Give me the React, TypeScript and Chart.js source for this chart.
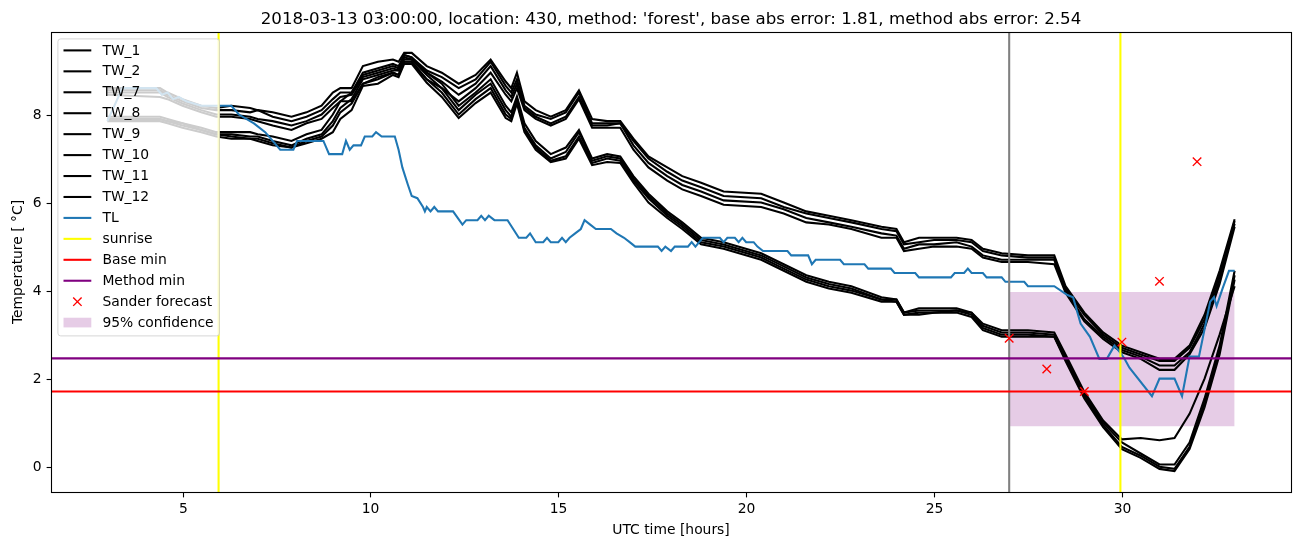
import React, { useEffect, useRef } from "react";
import { Chart, registerables } from "chart.js";

Chart.register(...registerables);

const TITLE =
  "2018-03-13 03:00:00, location: 430, method: 'forest', base abs error: 1.81, method abs error: 2.54";
const X_LABEL = "UTC time [hours]";
const Y_LABEL = "Temperature [ \u00B0C]";
const X_TICKS = [5, 10, 15, 20, 25, 30];
const Y_TICKS = [0, 2, 4, 6, 8];
const X_MIN = 1.5;
const X_MAX = 34.5;
const Y_MIN = -0.575;
const Y_MAX = 9.875;

const TW_NAMES = ["TW_1", "TW_2", "TW_7", "TW_8", "TW_9", "TW_10", "TW_11", "TW_12"];

const TW_TIMES = [
  3.0, 4.4, 4.6, 5.0, 5.5, 5.9, 6.3, 6.8, 7.0, 7.4, 7.9, 8.3, 8.7, 9.0, 9.2, 9.5, 9.8, 10.2, 10.6,
  10.75, 10.9, 11.1, 11.5, 11.9, 12.35, 12.8, 13.2, 13.6, 13.75, 13.9, 14.1, 14.4, 14.8, 15.2, 15.55,
  15.9, 16.3, 16.65, 17.0, 17.4, 17.9, 18.3, 18.8, 19.4, 20.4, 21.0, 21.6, 22.2, 22.8, 23.6, 24.0,
  24.2, 24.6, 25.0, 25.6, 26.0, 26.3, 26.8, 27.5, 28.2, 28.5, 29.0, 29.5, 30.0, 30.5, 31.0, 31.4,
  31.8, 32.2, 32.6, 33.0,
];

const TW_1 = [
  8.6, 8.6, 8.5, 8.35, 8.2, 8.15, 8.2, 8.15, 8.1, 8.05, 7.95, 8.05, 8.2, 8.5, 8.6, 8.6, 9.1, 9.2, 9.25,
  9.2, 9.4, 9.4, 9.1, 8.95, 8.7, 8.9, 9.25, 8.75, 8.6, 8.95, 8.3, 8.1, 7.95, 8.1, 8.55,
  7.9, 7.85, 7.85, 7.45, 7.05, 6.8, 6.6, 6.45, 6.25, 6.2, 6.0, 5.8, 5.7, 5.6, 5.45, 5.4,
  5.1, 5.2, 5.2, 5.2, 5.15, 4.95, 4.85, 4.8, 4.8, 4.1, 3.5, 3.05, 2.75, 2.6, 2.45, 2.45,
  2.75, 3.45, 4.45, 5.62,
];
const TW_2 = [
  8.55, 8.55, 8.45, 8.3, 8.15, 8.1, 8.1, 8.05, 8.1, 7.95, 7.85, 7.95, 8.1, 8.35, 8.5, 8.5, 8.95, 9.05, 9.15,
  9.1, 9.35, 9.3, 9.0, 8.85, 8.6, 8.8, 9.2, 8.65, 8.5, 8.8, 8.2, 8.0, 7.9, 8.05, 8.5,
  7.8, 7.8, 7.8, 7.4, 7.0, 6.7, 6.5, 6.35, 6.15, 6.1, 5.9, 5.75, 5.65, 5.55, 5.4, 5.35,
  5.05, 5.1, 5.15, 5.15, 5.1, 4.9, 4.8, 4.75, 4.75, 4.05, 3.45, 3.0, 2.7, 2.55, 2.4, 2.4,
  2.7, 3.35, 4.35, 5.58,
];
const TW_7 = [
  8.5, 8.5, 8.4, 8.25, 8.1, 8.0, 8.0, 7.95, 7.9, 7.85, 7.75, 7.85, 8.0, 8.25, 8.4, 8.45, 8.85, 8.95, 9.05,
  9.0, 9.25, 9.25, 8.95, 8.75, 8.45, 8.7, 9.1, 8.55, 8.4, 8.7, 8.15, 7.95, 7.8, 7.95, 8.4,
  7.75, 7.75, 7.8, 7.3, 6.9, 6.6, 6.4, 6.25, 6.05, 6.0, 5.85, 5.65, 5.55, 5.45, 5.3, 5.25,
  4.95, 5.05, 5.05, 5.1, 5.0, 4.8, 4.7, 4.7, 4.7, 4.0, 3.35, 2.95, 2.65, 2.5, 2.3, 2.3,
  2.6, 3.25, 4.25, 5.52,
];
const TW_8 = [
  8.45, 8.4, 8.35, 8.2, 8.05, 7.95, 7.95, 7.9, 7.85, 7.75, 7.65, 7.8, 7.9, 8.15, 8.3, 8.3, 8.7, 8.85, 8.95,
  8.9, 9.2, 9.2, 8.8, 8.6, 8.3, 8.6, 8.95, 8.45, 8.3, 8.6, 8.1, 7.9, 7.75, 7.9, 8.35,
  7.7, 7.7, 7.7, 7.2, 6.8, 6.5, 6.3, 6.15, 5.95, 5.9, 5.75, 5.55, 5.5, 5.4, 5.2, 5.2,
  4.9, 4.95, 5.0, 5.0, 4.95, 4.75, 4.65, 4.65, 4.6, 3.95, 3.3, 2.9, 2.6, 2.45, 2.2, 2.2,
  2.55, 3.15, 4.15, 5.45,
];
const TW_9 = [
  7.95, 7.95, 7.9, 7.8, 7.7, 7.6, 7.6, 7.6, 7.55, 7.5, 7.4, 7.55, 7.65, 8.0, 8.3, 8.5, 8.9, 9.0, 9.1,
  9.05, 9.35, 9.3, 8.95, 8.7, 8.2, 8.5, 8.8, 8.2, 8.05, 8.41, 7.8, 7.4, 7.1, 7.25, 7.65,
  7.0, 7.1, 7.05, 6.6, 6.2, 5.8, 5.55, 5.2, 5.1, 4.85, 4.6, 4.35, 4.2, 4.1, 3.85, 3.8,
  3.5, 3.6, 3.6, 3.6, 3.5, 3.25, 3.1, 3.1, 3.05, 2.55, 1.7, 1.05, 0.62, 0.65, 0.6, 0.65,
  1.2, 2.0, 3.0, 4.1,
];
const TW_10 = [
  7.9, 7.9, 7.85, 7.8, 7.65, 7.55, 7.55, 7.5, 7.5, 7.4, 7.3, 7.45, 7.55, 7.85, 8.15, 8.35, 8.8, 8.9, 9.0,
  9.0, 9.3, 9.25, 8.9, 8.6, 8.1, 8.45, 8.7, 8.1, 7.95, 8.35, 7.7, 7.3, 7.0, 7.15, 7.6,
  6.95, 7.05, 7.0, 6.55, 6.15, 5.75, 5.5, 5.15, 5.05, 4.8, 4.55, 4.3, 4.15, 4.05, 3.8, 3.8,
  3.5, 3.55, 3.55, 3.55, 3.5, 3.2, 3.05, 3.05, 3.0, 2.5, 1.65, 1.0, 0.55, 0.3, 0.05, 0.05,
  0.55, 1.55, 2.75, 4.45,
];
const TW_11 = [
  7.9, 7.9, 7.85, 7.75, 7.65, 7.55, 7.5, 7.45, 7.45, 7.35, 7.25, 7.4, 7.5, 7.75, 8.05, 8.25, 8.7, 8.8, 8.95,
  8.9, 9.2, 9.2, 8.8, 8.5, 8.0, 8.35, 8.6, 8.0, 7.9, 8.3, 7.65, 7.25, 6.95, 7.05, 7.5,
  6.9, 7.0, 6.95, 6.5, 6.1, 5.7, 5.45, 5.1, 5.0, 4.75, 4.5, 4.25, 4.1, 4.0, 3.8, 3.75,
  3.45, 3.5, 3.5, 3.55, 3.45, 3.15, 3.0, 3.0, 2.95, 2.45, 1.6, 0.95, 0.45, 0.25, 0.0, -0.05,
  0.45, 1.45, 2.65, 4.35,
];
const TW_12 = [
  7.85, 7.85, 7.8, 7.7, 7.6, 7.5, 7.45, 7.45, 7.4, 7.3, 7.25, 7.35, 7.45, 7.6, 7.9, 8.1, 8.65, 8.7, 8.9,
  8.85, 9.15, 9.15, 8.72, 8.4, 7.92, 8.26, 8.5, 7.92, 7.85, 8.25, 7.6, 7.2, 6.92, 7.0, 7.45,
  6.85, 6.92, 6.9, 6.45, 6.0, 5.65, 5.4, 5.05, 4.95, 4.7, 4.45, 4.2, 4.05, 3.95, 3.75, 3.75,
  3.45, 3.45, 3.5, 3.5, 3.4, 3.1, 2.95, 2.95, 2.95, 2.4, 1.55, 0.9, 0.4, 0.2, -0.05, -0.1,
  0.4, 1.35, 2.55, 4.25,
];

const TL_TIMES = [
  3.0, 3.4, 4.3, 4.45, 4.6, 4.75, 4.9, 5.1, 5.3, 5.5, 6.3, 6.5, 6.9, 7.2, 7.4, 7.6, 7.95, 8.05, 8.75,
  8.9, 9.25, 9.35, 9.45, 9.55, 9.75, 9.85, 10.05, 10.15, 10.3, 10.65, 10.75, 10.85, 11.0, 11.1, 11.25,
  11.4, 11.45, 11.5, 11.6, 11.7, 11.8, 12.2, 12.45, 12.55, 12.85, 12.95, 13.05, 13.15, 13.3, 13.65,
  13.8, 13.95, 14.15, 14.25, 14.4, 14.6, 14.7, 14.8, 15.0, 15.1, 15.2, 15.3, 15.45, 15.6, 15.7, 15.85,
  16.0, 16.4, 16.55, 16.75, 16.9, 17.05, 17.65, 17.75, 17.85, 18.0, 18.1, 18.45, 18.55, 18.65, 18.75,
  18.85, 19.3, 19.4, 19.5, 19.7, 19.8, 19.9, 20.0, 20.2, 20.3, 20.45, 21.1, 21.2, 21.65, 21.75, 21.85,
  22.5, 22.6, 23.15, 23.25, 23.85, 23.95, 24.5, 24.6, 25.45, 25.55, 25.8, 25.9, 26.0, 26.3, 26.4, 26.8,
  26.9, 27.4, 27.5, 28.2, 28.55, 28.7, 28.9, 29.15, 29.4, 29.6, 29.8, 29.95, 30.07, 30.2, 30.8, 31.0,
  31.4, 31.6, 31.8, 32.05, 32.35, 32.45, 32.52, 32.68, 32.85, 33.0,
];
const TL_VALUES = [
  7.85, 8.6, 8.6, 8.45, 8.5, 8.35, 8.4, 8.3, 8.25, 8.2, 8.2, 8.0, 7.8, 7.6, 7.4, 7.2, 7.2, 7.4, 7.4,
  7.1, 7.1, 7.4, 7.2, 7.3, 7.3, 7.5, 7.5, 7.6, 7.5, 7.5, 7.2, 6.8, 6.4, 6.15, 6.1,
  5.9, 5.8, 5.9, 5.8, 5.9, 5.8, 5.8, 5.5, 5.6, 5.6, 5.7, 5.6, 5.7, 5.6, 5.6,
  5.4, 5.2, 5.2, 5.3, 5.1, 5.1, 5.2, 5.1, 5.1, 5.2, 5.1, 5.2, 5.3, 5.4, 5.6, 5.5,
  5.4, 5.4, 5.3, 5.2, 5.1, 5.0, 5.0, 4.9, 5.0, 4.9, 5.0, 5.0, 5.1, 5.0, 5.1,
  5.2, 5.2, 5.1, 5.2, 5.2, 5.1, 5.2, 5.1, 5.1, 5.0, 4.9, 4.9, 4.8, 4.8, 4.6, 4.7,
  4.7, 4.6, 4.6, 4.5, 4.5, 4.4, 4.4, 4.3, 4.3, 4.4, 4.4, 4.5, 4.4, 4.4, 4.3, 4.3,
  4.2, 4.2, 4.1, 4.1, 3.9, 3.85, 3.25, 2.95, 2.45, 2.45, 2.75, 2.6, 2.45, 2.25, 1.6, 2.0,
  2.0, 1.6, 2.5, 2.5, 3.75, 3.85, 3.65, 4.05, 4.45, 4.45,
];

const SUNRISE_HOURS = [5.96, 29.96];
const FORECAST_START = 27;
const BASE_MIN = 1.71;
const METHOD_MIN = 2.46;
const SANDER_HOURS = [27, 28, 29, 30, 31, 32];
const SANDER_VALUES = [2.92, 2.22, 1.71, 2.83, 4.21, 6.93];
const CONF_HOURS = [27, 33];
const CONF_LOW = 0.92;
const CONF_HIGH = 3.97;

const FONT = '"DejaVu Sans", "Liberation Sans", sans-serif';
const FS = 13.89;
const LW = 2.08;

function pts(xs: number[], ys: number[]) {
  return xs.map((x, i) => ({ x, y: ys[i] }));
}

type LegendEntry = { label: string; kind: "line" | "marker" | "patch"; color: string };

export default function App() {
  const ref = useRef<HTMLCanvasElement>(null);

  useEffect(() => {
    const canvas = ref.current;
    if (!canvas) return;
    const TW_SERIES = [TW_1, TW_2, TW_7, TW_8, TW_9, TW_10, TW_11, TW_12];

    const datasets: any[] = [];
    datasets.push({
      label: "95% confidence",
      data: pts(CONF_HOURS, [CONF_HIGH, CONF_HIGH]),
      borderWidth: 0,
      borderColor: "rgba(0,0,0,0)",
      pointRadius: 0,
      backgroundColor: "rgba(128,0,128,0.2)",
      fill: { value: CONF_LOW },
      order: 30,
    });
    TW_SERIES.forEach((s, i) => {
      datasets.push({
        label: TW_NAMES[i],
        data: pts(TW_TIMES, s),
        borderColor: "#000000",
        borderWidth: LW,
        pointRadius: 0,
        fill: false,
        tension: 0,
        order: 29 - i,
      });
    });
    datasets.push({
      label: "TL",
      data: pts(TL_TIMES, TL_VALUES),
      borderColor: "#1f77b4",
      borderWidth: LW,
      pointRadius: 0,
      fill: false,
      order: 15,
    });
    SUNRISE_HOURS.forEach((h, i) => {
      datasets.push({
        label: i === 0 ? "sunrise" : "sunrise2",
        data: pts([h, h], [Y_MIN, Y_MAX]),
        borderColor: "#ffff00",
        borderWidth: LW,
        pointRadius: 0,
        fill: false,
        order: 14 - i,
      });
    });
    datasets.push({
      label: "forecast start",
      data: pts([FORECAST_START, FORECAST_START], [Y_MIN, Y_MAX]),
      borderColor: "#808080",
      borderWidth: LW,
      pointRadius: 0,
      fill: false,
      order: 11,
    });
    datasets.push({
      label: "Base min",
      data: pts([X_MIN, X_MAX], [BASE_MIN, BASE_MIN]),
      borderColor: "#ff0000",
      borderWidth: LW,
      pointRadius: 0,
      fill: false,
      order: 10,
    });
    datasets.push({
      label: "Method min",
      data: pts([X_MIN, X_MAX], [METHOD_MIN, METHOD_MIN]),
      borderColor: "#800080",
      borderWidth: LW,
      pointRadius: 0,
      fill: false,
      order: 9,
    });
    datasets.push({
      label: "Sander forecast",
      data: pts(SANDER_HOURS, SANDER_VALUES),
      showLine: false,
      borderColor: "#ff0000",
      backgroundColor: "#ff0000",
      pointStyle: "crossRot",
      pointRadius: 6,
      pointBorderWidth: 1.4,
      borderWidth: 1.4,
      order: 1,
    });

    const legendEntries: LegendEntry[] = [
      ...TW_NAMES.map((n) => ({ label: n, kind: "line" as const, color: "#000000" })),
      { label: "TL", kind: "line", color: "#1f77b4" },
      { label: "sunrise", kind: "line", color: "#ffff00" },
      { label: "Base min", kind: "line", color: "#ff0000" },
      { label: "Method min", kind: "line", color: "#800080" },
      { label: "Sander forecast", kind: "marker", color: "#ff0000" },
      { label: "95% confidence", kind: "patch", color: "rgba(128,0,128,0.2)" },
    ];

    const decor = {
      id: "mplDecor",
      afterDatasetsDraw(chart: any) {
        const ctx = chart.ctx as CanvasRenderingContext2D;
        const ca = chart.chartArea;
        const xs = chart.scales.x;
        const ys = chart.scales.y;
        ctx.save();
        ctx.strokeStyle = "#000";
        ctx.lineWidth = 1.1;
        ctx.strokeRect(
          Math.round(ca.left) + 0.5,
          Math.round(ca.top) + 0.5,
          Math.round(ca.right) - Math.round(ca.left),
          Math.round(ca.bottom) - Math.round(ca.top)
        );
        ctx.fillStyle = "#000";
        ctx.font = `${FS}px ${FONT}`;
        ctx.textAlign = "center";
        ctx.textBaseline = "alphabetic";
        X_TICKS.forEach((v) => {
          const px = Math.round(xs.getPixelForValue(v)) + 0.5;
          ctx.beginPath();
          ctx.moveTo(px, Math.round(ca.bottom) + 0.5);
          ctx.lineTo(px, Math.round(ca.bottom) + 5.4);
          ctx.stroke();
          ctx.fillText(String(v), px, ca.bottom + 21.3);
        });
        ctx.textAlign = "right";
        ctx.textBaseline = "middle";
        Y_TICKS.forEach((v) => {
          const py = Math.round(ys.getPixelForValue(v)) + 0.5;
          ctx.beginPath();
          ctx.moveTo(Math.round(ca.left) + 0.5, py);
          ctx.lineTo(Math.round(ca.left) - 4.4, py);
          ctx.stroke();
          ctx.fillText(String(v), ca.left - 9.5, py);
        });
        ctx.restore();
      },
      afterDraw(chart: any) {
        const ctx = chart.ctx as CanvasRenderingContext2D;
        const ca = chart.chartArea;
        ctx.save();
        ctx.fillStyle = "#000";
        ctx.font = `16.67px ${FONT}`;
        ctx.textAlign = "center";
        ctx.textBaseline = "alphabetic";
        ctx.fillText(TITLE, (ca.left + ca.right) / 2, ca.top - 8.3);
        ctx.font = `${FS}px ${FONT}`;
        ctx.fillText(X_LABEL, (ca.left + ca.right) / 2, ca.bottom + 41.5);
        ctx.save();
        ctx.translate(22, (ca.top + ca.bottom) / 2);
        ctx.rotate(-Math.PI / 2);
        ctx.fillText(Y_LABEL, 0, 0);
        ctx.restore();

        // legend
        const x0 = ca.left + 6.9;
        const y0 = ca.top + 6.9;
        const w = 161.5;
        const rowH = 20.94;
        const h = 297;
        const r = 2.8;
        ctx.beginPath();
        ctx.moveTo(x0 + r, y0);
        ctx.lineTo(x0 + w - r, y0);
        ctx.quadraticCurveTo(x0 + w, y0, x0 + w, y0 + r);
        ctx.lineTo(x0 + w, y0 + h - r);
        ctx.quadraticCurveTo(x0 + w, y0 + h, x0 + w - r, y0 + h);
        ctx.lineTo(x0 + r, y0 + h);
        ctx.quadraticCurveTo(x0, y0 + h, x0, y0 + h - r);
        ctx.lineTo(x0, y0 + r);
        ctx.quadraticCurveTo(x0, y0, x0 + r, y0);
        ctx.closePath();
        ctx.fillStyle = "rgba(255,255,255,0.8)";
        ctx.fill();
        ctx.strokeStyle = "rgba(204,204,204,0.8)";
        ctx.lineWidth = 1;
        ctx.stroke();

        const hx0 = x0 + 5.6;
        const hx1 = hx0 + 27.8;
        const tx = hx1 + 11.1;
        ctx.font = `${FS}px ${FONT}`;
        ctx.textAlign = "left";
        ctx.textBaseline = "middle";
        legendEntries.forEach((e, i) => {
          const cy = y0 + 11.5 + i * rowH;
          if (e.kind === "line") {
            ctx.strokeStyle = e.color;
            ctx.lineWidth = LW;
            ctx.beginPath();
            ctx.moveTo(hx0, cy);
            ctx.lineTo(hx1, cy);
            ctx.stroke();
          } else if (e.kind === "marker") {
            const cx = (hx0 + hx1) / 2;
            const d = 4.2;
            ctx.strokeStyle = e.color;
            ctx.lineWidth = 1.4;
            ctx.beginPath();
            ctx.moveTo(cx - d, cy - d);
            ctx.lineTo(cx + d, cy + d);
            ctx.moveTo(cx - d, cy + d);
            ctx.lineTo(cx + d, cy - d);
            ctx.stroke();
          } else {
            ctx.fillStyle = e.color;
            ctx.fillRect(hx0, cy - 4.9, hx1 - hx0, 9.7);
          }
          ctx.fillStyle = "#000";
          ctx.fillText(e.label, tx, cy + 0.5);
        });
        ctx.restore();
      },
    };

    const chart = new Chart(canvas, {
      type: "line",
      data: { datasets },
      options: {
        responsive: false,
        maintainAspectRatio: false,
        animation: false,
        devicePixelRatio: 1,
        layout: { padding: { left: 51, right: 11, top: 32, bottom: 55 } },
        plugins: {
          legend: { display: false },
          tooltip: { enabled: false },
          title: { display: false },
        },
        scales: {
          x: { type: "linear", min: X_MIN, max: X_MAX, display: false },
          y: { type: "linear", min: Y_MIN, max: Y_MAX, display: false },
        },
      },
      plugins: [decor],
    } as any);
    return () => chart.destroy();
  }, []);

  return (
    <div style={{ position: "fixed", left: 0, top: 0, width: 1302, height: 547, background: "#fff" }}>
      <canvas ref={ref} width={1302} height={547} style={{ width: 1302, height: 547, display: "block" }} />
    </div>
  );
}
